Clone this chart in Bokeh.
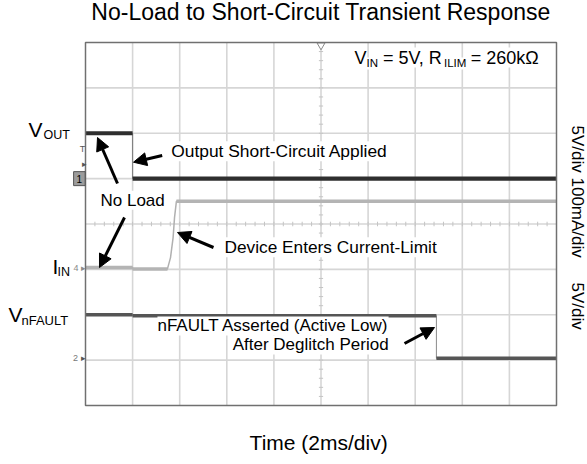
import math
import numpy as np
from bokeh.plotting import figure
from bokeh.models import Label, Arrow, NormalHead
from bokeh.embed import file_html
from bokeh.resources import INLINE

# ---------------- data (read from the oscilloscope capture) ----------------
# time axis: 2 ms/div, 10 divisions; vertical: 8 divisions
time_span_ms = [0.0, 20.0]
time_per_div_ms = 2.0
n_vdiv = 8

# Channel 1: V_OUT (5 V/div)
vout_time_ms = [0.0, 2.0, 2.0, 20.0]
vout_volts = [5.0, 5.0, 0.0, 0.0]

# Channel 4: I_IN (100 mA/div)
iin_time_ms = [0.0, 2.0, 2.0, 3.48, 3.61, 3.72, 3.78, 3.86, 20.0]
iin_mA = [4.0, 4.0, 1.0, 1.0, 26.0, 70.0, 114.0, 150.0, 150.0]

# Channel 2: V_nFAULT (5 V/div)
nfault_time_ms = [0.0, 2.0, 2.0, 14.9, 14.9, 20.0]
nfault_volts = [4.8, 4.8, 4.7, 4.7, 0.0, 0.0]

# channel settings: ground offset (divisions), units per division
ch_vout = (5.0, 5.0)
ch_iin = (3.0, 100.0)
ch_nfault = (1.04, 5.0)

scale_labels = ["5V/div", "100mA/div", "5V/div"]

FONT = "Liberation Sans"
W, H = 587, 464
# graticule placement on the canvas (pixels)
GX0, GX1, GY0, GY1 = 85, 556, 42, 405
px_per_ms = (GX1 - GX0) / (time_span_ms[1] - time_span_ms[0])
px_per_div = (GY1 - GY0) / n_vdiv

p = figure(width=W, height=H,
           x_range=(-GX0 / px_per_ms, (W - GX0) / px_per_ms),
           y_range=(-(H - GY1) / px_per_div, GY1 / px_per_div),
           x_axis_type=None, y_axis_type=None, toolbar_location=None,
           output_backend="svg", title=None,
           min_border_left=0, min_border_right=0,
           min_border_top=0, min_border_bottom=0)
p.background_fill_color = "white"
p.border_fill_color = "white"
p.outline_line_color = None
p.xgrid.visible = False
p.ygrid.visible = False

t0, t1 = time_span_ms
# graticule grid lines
xt = np.arange(t0 + time_per_div_ms, t1, time_per_div_ms)
p.segment(x0=xt, x1=xt, y0=0, y1=n_vdiv, line_color="#d6d6d6", line_width=1.6)
yt_major = np.arange(1, n_vdiv)
p.segment(x0=t0, x1=t1, y0=yt_major, y1=yt_major, line_color="#d6d6d6", line_width=1.6)

# minor ticks on centre lines
xmid = (t0 + t1) / 2
ymid = n_vdiv / 2
yt = np.arange(0.2, n_vdiv, 0.2)
p.segment(x0=xmid - 0.09, x1=xmid + 0.09, y0=yt, y1=yt, line_color="#c4c4c4", line_width=1)
xm = np.arange(t0 + 0.4, t1, 0.4)
p.segment(x0=xm, x1=xm, y0=ymid - 0.05, y1=ymid + 0.05, line_color="#c4c4c4", line_width=1)

# trigger marker at top centre
p.scatter(x=[xmid], y=[n_vdiv - 0.06], marker="inverted_triangle", size=8,
          fill_color="white", line_color="#8a8a8a", line_width=1)


def draw_trace(t, vals, ch, thick_color, thin_color, w_thick, w_thin):
    off, per = ch
    yd = [off + v / per for v in vals]
    p.line(t, yd, line_color=thin_color, line_width=w_thin)
    x0, x1, ys = [], [], []
    for i in range(len(t) - 1):
        if yd[i] == yd[i + 1] and t[i + 1] > t[i]:
            x0.append(t[i]); x1.append(t[i + 1]); ys.append(yd[i])
    p.segment(x0=x0, x1=x1, y0=ys, y1=ys, line_color=thick_color,
              line_width=w_thick, line_cap="butt")


draw_trace(iin_time_ms, iin_mA, ch_iin, "#b4b4b4", "#b0b0b0", 3.5, 1.5)
draw_trace(nfault_time_ms, nfault_volts, ch_nfault, "#555555", "#8a8a8a", 3.5, 1.0)
draw_trace(vout_time_ms, vout_volts, ch_vout, "#2e2e2e", "#7a7a7a", 4.2, 1.0)

# graticule border
p.quad(left=t0, right=t1, bottom=0, top=n_vdiv, fill_color=None,
       line_color="#707070", line_width=1.5)


def lab(x, y, text, size, **kw):
    kw.setdefault("text_color", "black")
    p.add_layout(Label(x=x, y=y, text=text, text_font=FONT,
                       text_font_size=f"{size}px", **kw))


# title and time label
lab(10.0, 8.375, "No-Load to Short-Circuit Transient Response", 23, text_align="center")
lab(9.9, -1.058, "Time (2ms/div)", 21, text_align="center")

# channel scale labels on the right
for yy, txt in zip([6.17, 5.025, 2.71], scale_labels):
    lab(20.89, yy, txt, 17, angle=-math.pi / 2, text_align="left", text_baseline="middle")

# channel names on the left
lab(-2.42, 5.84, "V", 21)
lab(-1.78, 5.80, "OUT", 12.5)
lab(-1.40, 2.82, "I", 21)
lab(-1.19, 2.78, "IN", 12.5)
lab(-3.27, 1.763, "V", 21)
lab(-2.718, 1.697, "nFAULT", 13)

# conditions
bg = dict(background_fill_color="white", background_fill_alpha=1.0)
lab(11.42, 7.449, "V", 18, **bg)
lab(11.93, 7.405, "IN", 11.5, **bg)
lab(12.63, 7.449, "= 5V, R", 18, **bg)
lab(15.22, 7.405, "ILIM", 11.5, **bg)
lab(16.36, 7.449, "= 260kΩ", 18, **bg)

# annotations
lab(3.64, 5.384, "Output Short-Circuit Applied", 17.4, **bg)
lab(0.637, 4.313, "No Load", 17, **bg)
lab(5.90, 3.268, "Device Enters Current-Limit", 17.3, **bg)
lab(12.87, 1.543, "nFAULT Asserted (Active Low)", 17, text_align="right", **bg)
lab(12.87, 1.124, "After Deglitch Period", 17, text_align="right", **bg)

arrows = [
    (3.257, 5.510, 2.038, 5.362),
    (1.359, 4.893, 0.51, 5.906),
    (1.656, 4.143, 0.594, 3.041),
    (5.435, 3.482, 3.907, 3.813),
    (13.546, 1.366, 14.820, 1.719),
]
for xs, ys, xe, ye in arrows:
    p.add_layout(Arrow(end=NormalHead(size=13, fill_color="black", line_color="black", line_width=1),
                       x_start=xs, y_start=ys, x_end=xe, y_end=ye,
                       line_width=3, line_color="black"))

# scope channel markers at the left edge
lab(-0.13, 5.55, "T", 9, text_color="#555555", text_align="center")
lab(-0.05, 5.33, "▸", 9, text_color="#555555", text_align="center", text_baseline="middle")
lab(-0.26, 5.0, "1", 10, text_color="black", text_align="center", text_baseline="middle",
    background_fill_color="#9c9c9c", border_line_color="#555555", padding=3)
lab(-0.40, 3.04, "4", 9, text_color="#8a8a8a", text_align="center", text_baseline="middle")
lab(-0.10, 3.04, "▸", 9, text_color="#8a8a8a", text_align="center", text_baseline="middle")
lab(-0.42, 1.04, "2", 9, text_color="#777777", text_align="center", text_baseline="middle")
lab(-0.10, 1.04, "▸", 9, text_color="#555555", text_align="center", text_baseline="middle")

open("out.html", "w").write(file_html(p, INLINE))
